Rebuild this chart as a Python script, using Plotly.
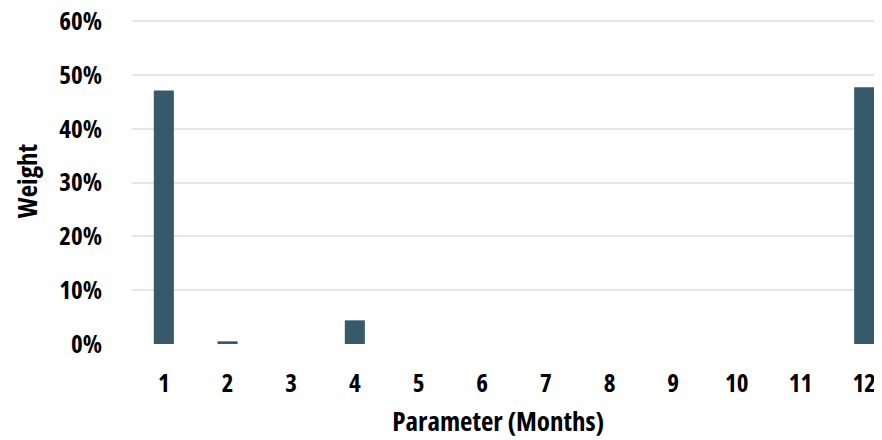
import plotly.graph_objects as go

months = [str(i) for i in range(1, 13)]
weights = [0.471, 0.005, 0.0, 0.044, 0.0, 0.0, 0.0, 0.0, 0.0, 0.0, 0.0, 0.4775]
y_ticks = [0, 0.1, 0.2, 0.3, 0.4, 0.5, 0.6]
y_tick_labels = ["0%", "10%", "20%", "30%", "40%", "50%", "60%"]
x_title = "Parameter (Months)"
y_title = "Weight"

font = dict(family="Open Sans", size=25, color="black", weight="bold")
title_font = dict(family="Open Sans", size=27, color="black", weight="bold")

fig = go.Figure(go.Bar(
    x=list(range(1, 13)), y=weights,
    marker=dict(color="#365a69", line=dict(width=0)),
    width=0.315,
))
fig.update_layout(
    width=882, height=440,
    margin=dict(l=124, r=8, t=10, b=104, autoexpand=False),
    plot_bgcolor="white", paper_bgcolor="white",
    showlegend=False,
    font=font,
    xaxis=dict(
        range=[0.5, 12.28], tickmode="array", tickvals=list(range(1, 13)), ticktext=months,
        showgrid=False, zeroline=False, showline=False, ticks="",
        tickfont=font, automargin=False, ticklabelstandoff=22,
        ticklabeloverflow="allow",
    ),
    yaxis=dict(
        range=[0, 0.606], tickmode="array", tickvals=y_ticks, ticktext=y_tick_labels,
        showgrid=True, gridcolor="#e6e6e6", gridwidth=1.5, zeroline=False, showline=False,
        ticks="", ticklabelstandoff=29, automargin=False,
        ticklabeloverflow="allow",
        tickfont=font,
        title=dict(text=y_title, font=title_font, standoff=16),
    ),
    annotations=[dict(
        text=x_title, font=title_font, showarrow=False,
        xref="paper", yref="paper", x=0.488, y=-0.236,
        xanchor="center", yanchor="middle",
    )],
)
condense = "document.querySelectorAll('svg text').forEach(function(t){t.style.fontStretch='75%';});"
fig.write_html("out.html", post_script=condense)
